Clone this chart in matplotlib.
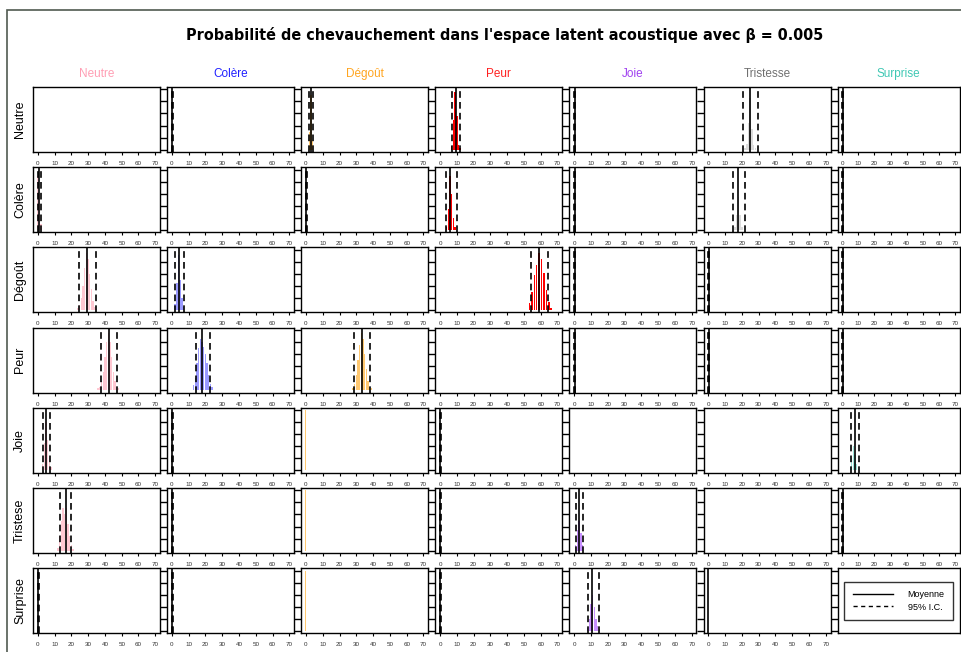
import numpy as np
import matplotlib
matplotlib.use("Agg")
import matplotlib.pyplot as plt
from matplotlib.patches import Rectangle
from matplotlib.lines import Line2D

plt.rcParams['font.family'] = ['Liberation Sans', 'DejaVu Sans']

# Emotions (colonnes = cible, lignes = source)
EMOTIONS = ['Neutre', 'Colère', 'Dégoût', 'Peur', 'Joie', 'Tristesse', 'Surprise']
ROW_LABELS = ['Neutre', 'Colère', 'Dégoût', 'Peur', 'Joie', 'Tristese', 'Surprise']
TITLE_COLORS = ['#ff9eb4', '#2020ff', '#ffa520', '#ff2020', '#a040f0', '#707070', '#40c8b4']
HIST_COLORS = ['#ffc8d2', '#9a9aff', '#ffc870', '#ff0000', '#c890ff', '#dcdcdc', '#a0e8dc']

N = np.nan
# Moyenne et intervalle de confiance a 95% (pourcentage de chevauchement)
MOYENNE = [
    [N, 0.3, 3.0, 9.3, 0.3, 24.9, 0.3],
    [1.0, N, 0.3, 6.0, 0.3, 18.0, 0.3],
    [29.4, 4.4, N, 58.9, 0.3, 0.3, 0.3],
    [42.6, 18.2, 33.4, N, 0.3, 0.3, 0.3],
    [4.8, 0.3, N, 0.2, N, N, 7.7],
    [17.0, 0.3, N, 0.2, 3.0, N, 0.3],
    [0.3, 0.3, N, 0.2, 10.7, 0.1, N],
]
IC_BAS = [
    [N, 0.0, 1.8, 6.9, 0.0, 20.8, 0.0],
    [0.4, N, 0.0, 3.6, 0.0, 14.6, 0.0],
    [24.4, 2.2, N, 54.0, 0.0, 0.0, 0.0],
    [37.4, 14.2, 28.6, N, 0.0, 0.0, 0.0],
    [3.0, 0.0, N, 0.0, N, N, 5.3],
    [13.4, 0.0, N, 0.0, 1.2, N, 0.0],
    [0.0, 0.0, N, 0.0, 8.3, N, N],
]
IC_HAUT = [
    [N, 0.6, 4.2, 11.9, 0.6, 29.7, 0.6],
    [1.8, N, 0.6, 10.0, 0.6, 22.0, 0.6],
    [34.6, 7.5, N, 64.5, 0.6, 0.6, 0.6],
    [47.4, 22.9, 38.4, N, 0.6, 0.6, 0.6],
    [7.2, 0.6, N, 0.5, N, N, 10.7],
    [20.0, 0.6, N, 0.5, 5.3, N, 0.6],
    [0.6, 0.6, N, 0.5, 14.8, N, N],
]

# Histogrammes (x = chevauchement, y = frequence relative)
HIST_X = {
    (0, 2): [2, 3, 4],
    (0, 3): [7, 8, 9, 10, 11, 12],
    (0, 5): [22, 23, 24, 25, 26, 27, 28],
    (1, 0): [0, 1, 2],
    (1, 3): [4, 5, 6, 7, 8, 9],
    (1, 5): [16, 17, 18, 19, 20],
    (2, 0): [24, 25, 26, 27, 28, 29, 30, 31, 32, 33, 34, 35],
    (2, 1): [2, 3, 4, 5, 6, 7],
    (2, 3): [53.4, 54.8, 56.2, 57.6, 59.0, 60.5, 61.9, 63.3, 64.8, 66.2],
    (3, 0): [36, 37, 38, 39, 40, 41, 42, 43, 44, 45, 46, 47, 48],
    (3, 1): [13, 14, 15, 16, 17, 18, 19, 20, 21, 22, 23, 24],
    (3, 2): [28, 29, 30, 31, 32, 33, 34, 35, 36, 37, 38, 39, 40],
    (4, 0): [3, 4, 5, 6, 7, 8],
    (4, 2): [0],
    (4, 3): [0],
    (4, 6): [5, 6, 7, 8, 9, 10],
    (5, 0): [12, 13, 14, 15, 16, 17, 18, 19, 20, 21],
    (5, 2): [0],
    (5, 3): [0],
    (5, 4): [1, 2, 3, 4, 5],
    (6, 2): [0],
    (6, 3): [0],
    (6, 4): [8, 9, 10, 11, 12, 13, 14, 15],
}
HIST_Y = {
    (0, 2): [0.3, 0.9, 0.15],
    (0, 3): [0.06, 0.5, 0.95, 0.55, 0.08, 0.03],
    (0, 5): [0.03, 0.1, 0.45, 0.85, 0.35, 0.08, 0.02],
    (1, 0): [0.9, 0.6, 0.1],
    (1, 3): [0.05, 0.35, 0.9, 0.6, 0.2, 0.05],
    (1, 5): [0.05, 0.25, 0.55, 0.25, 0.05],
    (2, 0): [0.03, 0.08, 0.2, 0.4, 0.7, 0.95, 0.85, 0.6, 0.35, 0.15, 0.05, 0.02],
    (2, 1): [0.1, 0.45, 0.92, 0.5, 0.2, 0.05],
    (2, 3): [0.12, 0.3, 0.58, 0.75, 0.95, 0.85, 0.62, 0.33, 0.13, 0.04],
    (3, 0): [0.03, 0.06, 0.15, 0.3, 0.55, 0.8, 0.95, 0.8, 0.55, 0.3, 0.15, 0.06, 0.03],
    (3, 1): [0.08, 0.2, 0.45, 0.7, 0.85, 0.8, 0.72, 0.6, 0.45, 0.25, 0.1, 0.05],
    (3, 2): [0.04, 0.1, 0.25, 0.5, 0.75, 0.95, 0.85, 0.6, 0.35, 0.15, 0.06, 0.03, 0.01],
    (4, 0): [0.1, 0.45, 0.8, 0.5, 0.2, 0.05],
    (4, 2): [1.0],
    (4, 3): [1.0],
    (4, 6): [0.05, 0.2, 0.4, 0.25, 0.1, 0.03],
    (5, 0): [0.05, 0.25, 0.5, 0.7, 0.6, 0.7, 0.45, 0.25, 0.1, 0.03],
    (5, 2): [1.0],
    (5, 3): [1.0],
    (5, 4): [0.1, 0.35, 0.5, 0.3, 0.1],
    (6, 2): [1.0],
    (6, 3): [1.0],
    (6, 4): [0.05, 0.2, 0.45, 0.6, 0.4, 0.2, 0.08, 0.03],
}

X_TICKS = [0, 10, 20, 30, 40, 50, 60, 70]
Y_TICKS = [0, 0.2, 0.4, 0.6, 0.8, 1.0]

W, H = 961, 652
fig = plt.figure(figsize=(W / 100, H / 100), dpi=100)

# cadre exterieur (coupe a droite et en bas)
fig.patches.append(Rectangle((7 / W, -1), 2, 2 - 10 / H, transform=fig.transFigure,
                             fill=False, edgecolor='#505a50', lw=1.2))

fig.text(505 / W, 1 - 35 / H,
         "Probabilité de chevauchement dans l'espace latent acoustique avec β = 0.005",
         ha='center', va='center', fontsize=11.5, fontweight='bold',
         family='DejaVu Sans', fontstretch='condensed')

left0, col_step, pw = 33, 134.1, 127
top0, row_step, ph = 87, 80.2, 65

for i in range(7):
    for j in range(7):
        x0 = left0 + j * col_step
        y0 = top0 + i * row_step
        w = pw if j < 6 else 122
        ax = fig.add_axes([x0 / W, 1 - (y0 + ph) / H, w / W, ph / H])
        ax.set_xlim(-2.8, 72.8)
        ax.set_ylim(-0.04, 1.04)
        for s in ax.spines.values():
            s.set_linewidth(1.0)
            s.set_color('black')

        if (i, j) in HIST_X:
            larg = 0.85 if len(HIST_X[(i, j)]) > 1 else 0.5
            ax.bar(HIST_X[(i, j)], HIST_Y[(i, j)], width=larg,
                   color=HIST_COLORS[j], linewidth=0, zorder=1)

        m, lo, hi = MOYENNE[i][j], IC_BAS[i][j], IC_HAUT[i][j]
        if not np.isnan(m):
            ax.axvline(m, color='black', lw=1.2, zorder=3)
        for v in (lo, hi):
            if not np.isnan(v):
                ax.axvline(v, color='black', lw=1.2, ls=(0, (4, 2.5)), zorder=3)

        ax.set_xticks(X_TICKS)
        ax.set_yticks(Y_TICKS)
        ax.tick_params(axis='x', length=2.5, width=0.8, labelsize=4.5, pad=4,
                       labelcolor='#333333')
        ax.tick_params(axis='y', length=5, width=1.0, labelleft=False)
        if j == 0:
            ax.tick_params(axis='y', length=0)

        if i == 6 and j == 6:
            ax.tick_params(axis='x', length=0, labelbottom=False)
            poignees = [Line2D([], [], color='black', lw=1),
                        Line2D([], [], color='black', lw=1, ls=(0, (3, 2.5)))]
            leg = ax.legend(poignees, ['Moyenne', '95% I.C.'], loc='center',
                            fontsize=6.5, frameon=True, fancybox=False,
                            handlelength=4.5, borderpad=0.9, labelspacing=0.4,
                            handletextpad=1.6, borderaxespad=0.3)
            leg.get_frame().set_edgecolor('black')
            leg.get_frame().set_linewidth(1.0)

        if i == 0:
            ax.set_title(EMOTIONS[j], color=TITLE_COLORS[j], fontsize=8.5, pad=7)
        if j == 0:
            ax.set_ylabel(ROW_LABELS[i], fontsize=9, labelpad=5)

fig.savefig('out.png', dpi=100)
